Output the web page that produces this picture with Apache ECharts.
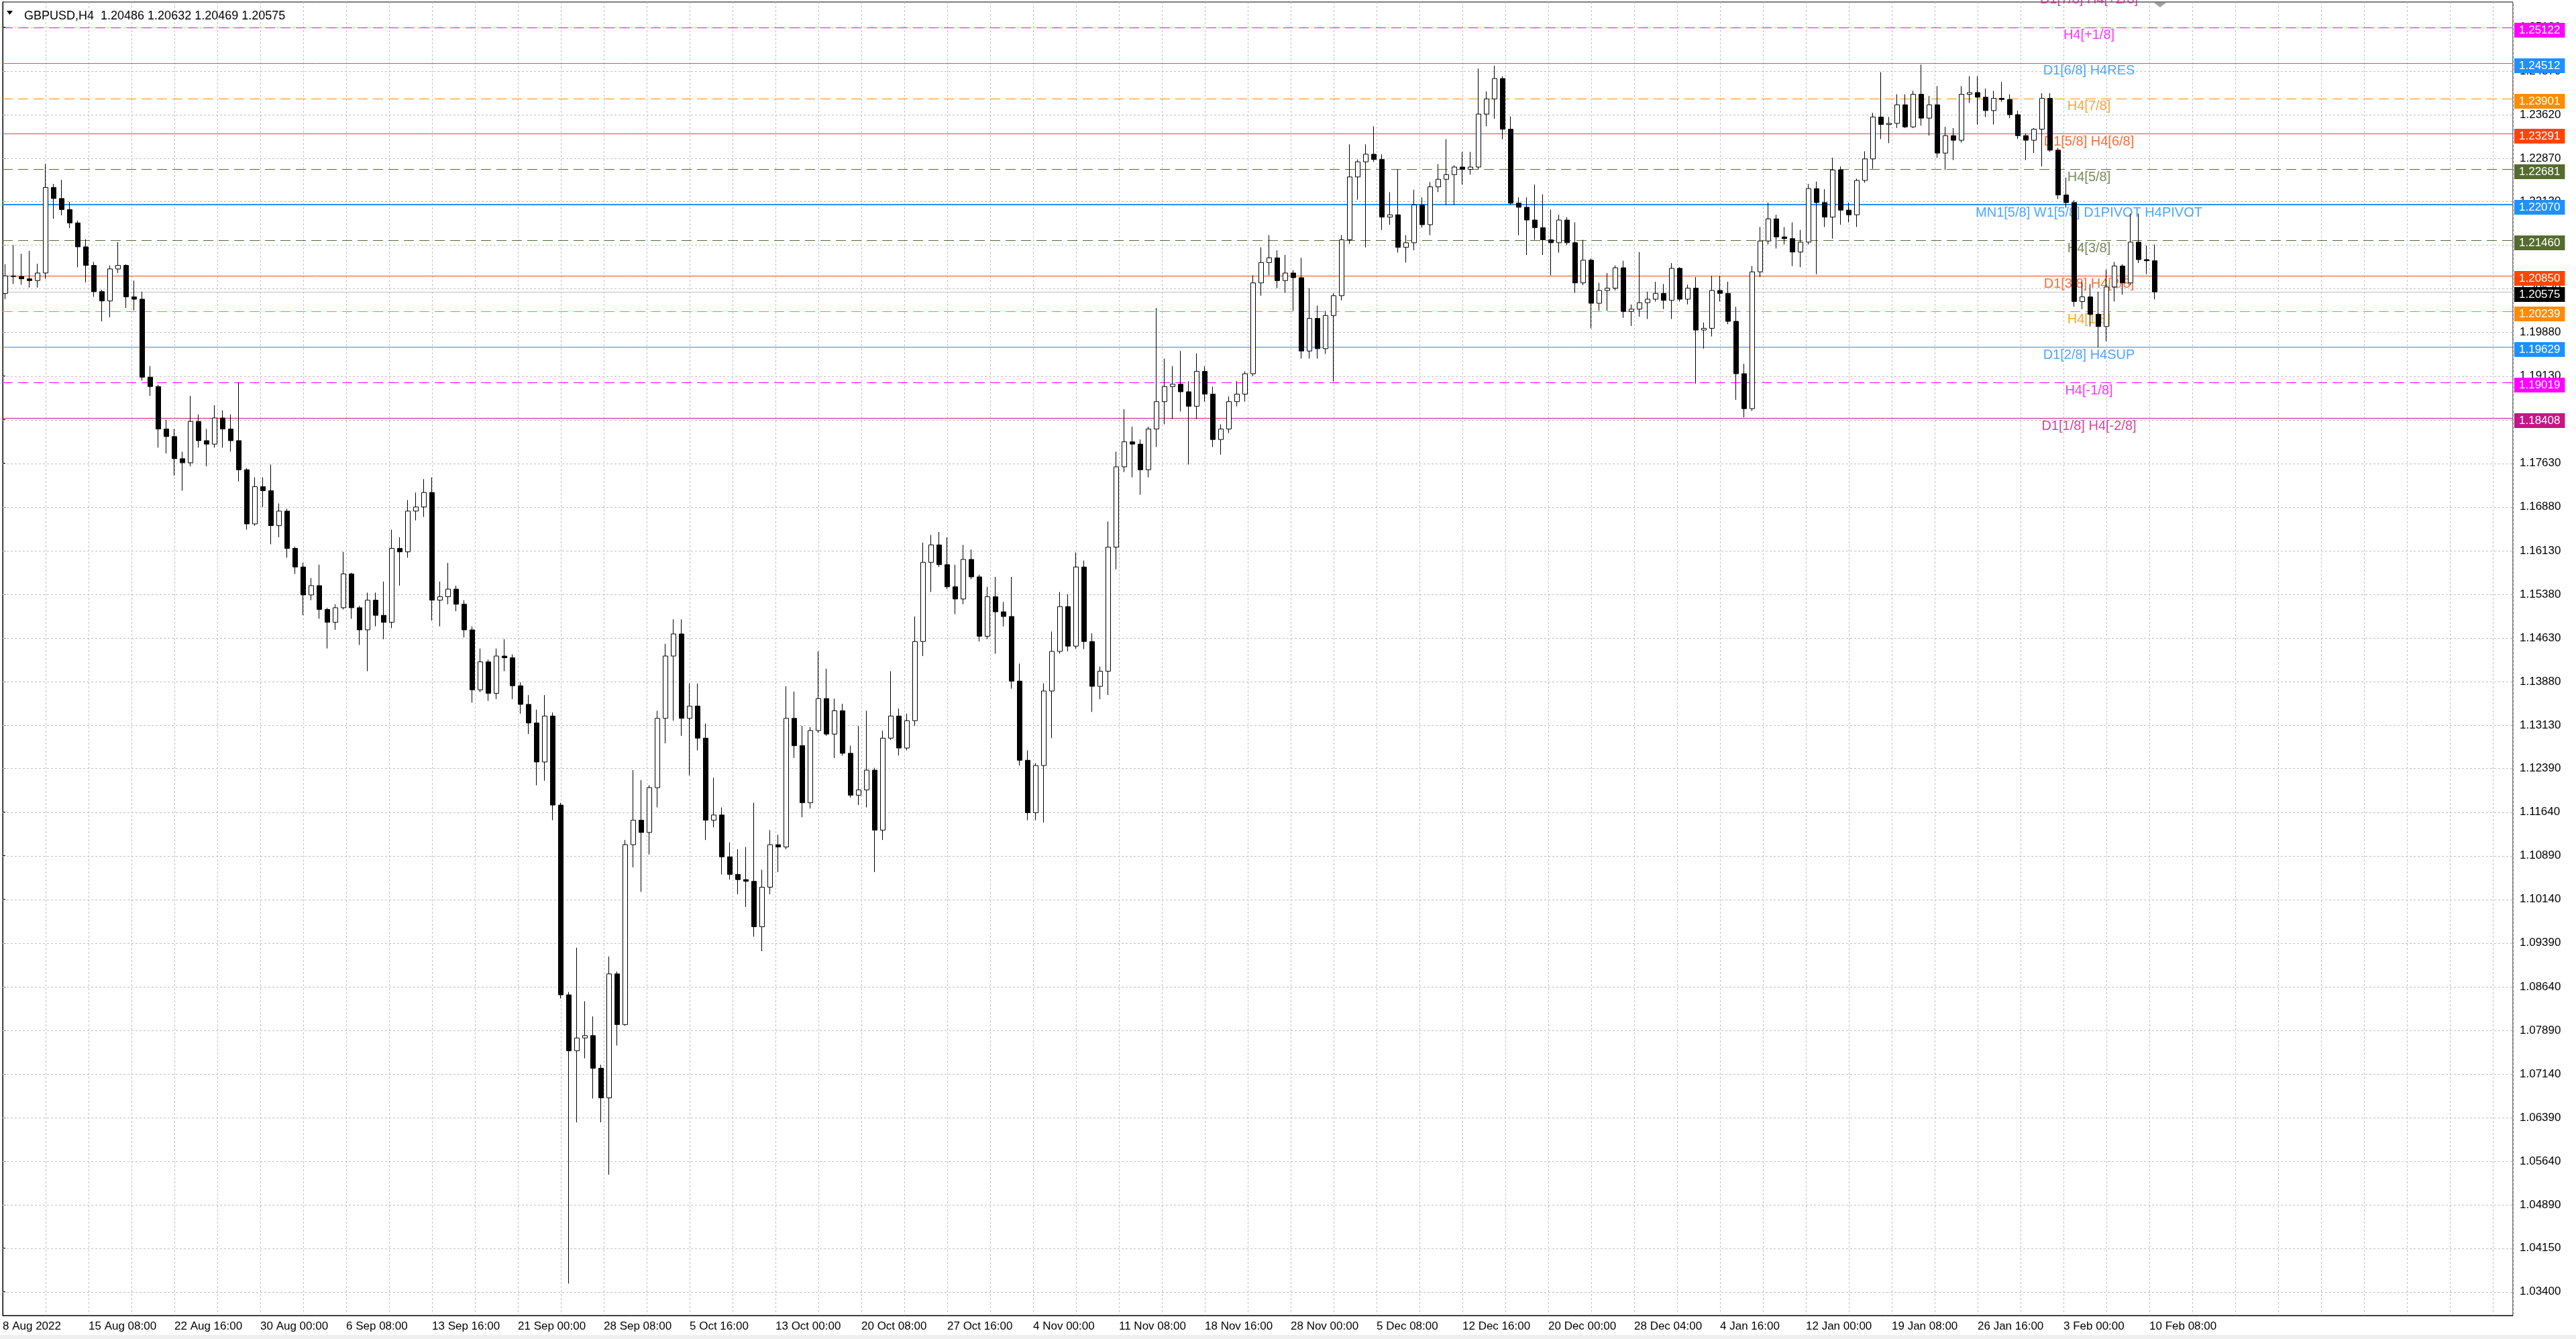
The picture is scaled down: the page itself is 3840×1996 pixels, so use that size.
<!DOCTYPE html>
<html><head><meta charset="utf-8">
<script src="https://cdn.jsdelivr.net/npm/echarts/dist/echarts.min.js"></script>
<style>html,body{margin:0;padding:0;background:#fff;overflow:hidden}#c{width:3840px;height:1996px}</style>
</head><body><div id="c"></div>
<script>
// 12-hour candles (each spans 3 H4 bars)
const opens=[
1.2055,1.2085,1.2084,1.2080,1.2077,1.2090,1.2237,1.2218,1.2199,1.2176,
1.2135,1.2103,1.2058,1.2042,1.2097,1.2103,1.2049,1.2045,1.1911,1.1895,
1.1822,1.1809,1.1771,1.1764,1.1835,1.1802,1.1796,1.1841,1.1822,1.1802,
1.1752,1.1659,1.1723,1.1716,1.1656,1.1681,1.1617,1.1585,1.1537,1.1553,
1.1512,1.1490,1.1515,1.1573,1.1515,1.1477,1.1528,1.1502,1.1490,1.1617,
1.1611,1.1681,1.1688,1.1713,1.1528,1.1534,1.1547,1.1521,1.1477,1.1374,
1.1422,1.1368,1.1432,1.1429,1.1381,1.1349,1.1317,1.1250,1.1329,1.1176,
1.0850,1.0754,1.0776,1.0780,1.0724,1.0673,1.0886,1.0799,1.1108,1.1150,
1.1129,1.1206,1.1325,1.1432,1.1470,1.1325,1.1346,1.1291,1.1150,1.1159,
1.1087,1.1057,1.1048,1.1045,1.0967,1.1035,1.1108,1.1104,1.1325,1.1278,
1.1180,1.1304,1.1359,1.1298,1.1338,1.1265,1.1193,1.1202,1.1236,1.1133,
1.1291,1.1329,1.1274,1.1321,1.1457,1.1593,1.1623,1.1589,1.1551,1.1530,
1.1598,1.1568,1.1466,1.1534,1.1508,1.1500,1.1389,1.1253,1.1163,1.1244,
1.1372,1.1440,1.1517,1.1449,1.1585,1.1457,1.1380,1.1406,1.1619,1.1757,
1.1800,1.1796,1.1752,1.1822,1.1869,1.1895,1.1899,1.1886,1.1861,1.1921,
1.1882,1.1804,1.1822,1.1869,1.1882,1.1917,1.2073,1.2108,1.2116,1.2077,
1.2090,1.2082,1.1956,1.2012,1.1960,1.2017,1.2051,1.2147,1.2255,1.2281,
1.2294,1.2285,1.2186,1.2190,1.2134,1.2142,1.2207,1.2173,1.2238,1.2251,
1.2259,1.2272,1.2268,1.2272,1.2363,1.2389,1.2424,1.2337,1.2210,1.2203,
1.2181,1.2168,1.2147,1.2142,1.2181,1.2142,1.2073,1.2112,1.2038,1.2060,
1.2064,1.2099,1.2024,1.2028,1.2039,1.2045,1.2055,1.2043,1.2098,1.2045,
1.2064,1.1992,1.1995,1.2060,1.2055,1.2007,1.1917,1.1857,1.2092,1.2145,
1.2183,1.2152,1.2149,1.2126,1.2143,1.2235,1.2211,1.2186,1.2267,1.2198,
1.2190,1.2249,1.2286,1.2358,1.2345,1.2347,1.2379,1.2341,1.2397,1.2356,
1.2379,1.2296,1.2326,1.2318,1.2397,1.2400,1.2392,1.2369,1.2390,1.2388,
1.2362,1.2326,1.2318,1.2337,1.2390,1.2301,1.2224,1.2211,1.2041,1.2049,
1.2019,1.1998,1.2066,1.2102,1.2073,1.2143,1.2113,1.2111];
const highs=[
1.2105,1.2138,1.2123,1.2128,1.2106,1.2277,1.2243,1.2250,1.2212,1.2180,
1.2148,1.2109,1.2061,1.2103,1.2143,1.2105,1.2077,1.2058,1.1930,1.1898,
1.1838,1.1822,1.1783,1.1879,1.1847,1.1822,1.1863,1.1854,1.1847,1.1902,
1.1755,1.1739,1.1739,1.1761,1.1694,1.1685,1.1620,1.1592,1.1566,1.1589,
1.1515,1.1521,1.1611,1.1575,1.1518,1.1541,1.1541,1.1560,1.1649,1.1636,
1.1700,1.1713,1.1736,1.1739,1.1560,1.1592,1.1553,1.1528,1.1483,1.1445,
1.1426,1.1445,1.1461,1.1435,1.1387,1.1365,1.1340,1.1365,1.1335,1.1180,
1.0855,1.0931,1.0839,1.0813,1.0730,1.0916,1.0890,1.1116,1.1236,1.1219,
1.1210,1.1338,1.1453,1.1495,1.1495,1.1385,1.1385,1.1316,1.1223,1.1172,
1.1112,1.1100,1.1104,1.1180,1.1065,1.1133,1.1125,1.1380,1.1371,1.1312,
1.1310,1.1440,1.1410,1.1359,1.1350,1.1278,1.1312,1.1338,1.1240,1.1304,
1.1406,1.1342,1.1333,1.1500,1.1627,1.1640,1.1645,1.1636,1.1589,1.1623,
1.1615,1.1572,1.1551,1.1568,1.1525,1.1568,1.1419,1.1270,1.1248,1.1385,
1.1474,1.1542,1.1538,1.1610,1.1596,1.1471,1.1414,1.1663,1.1783,1.1856,
1.1826,1.1804,1.1826,1.2030,1.1943,1.1930,1.1956,1.1904,1.1952,1.1930,
1.1895,1.1830,1.1878,1.1904,1.1921,1.2086,1.2134,1.2155,1.2129,1.2121,
1.2095,1.2116,1.2064,1.2034,1.2025,1.2055,1.2155,1.2311,1.2285,1.2311,
1.2342,1.2294,1.2229,1.2268,1.2155,1.2233,1.2220,1.2246,1.2277,1.2320,
1.2275,1.2298,1.2298,1.2441,1.2402,1.2446,1.2428,1.2359,1.2220,1.2220,
1.2242,1.2225,1.2199,1.2190,1.2186,1.2177,1.2147,1.2115,1.2073,1.2090,
1.2103,1.2111,1.2036,1.2126,1.2058,1.2075,1.2071,1.2107,1.2100,1.2070,
1.2083,1.2005,1.2085,1.2085,1.2075,1.2032,1.1934,1.2102,1.2169,1.2211,
1.2190,1.2169,1.2177,1.2164,1.2243,1.2247,1.2234,1.2288,1.2273,1.2211,
1.2252,1.2299,1.2365,1.2435,1.2358,1.2397,1.2397,1.2403,1.2448,1.2394,
1.2411,1.2341,1.2339,1.2411,1.2428,1.2428,1.2407,1.2403,1.2418,1.2397,
1.2369,1.2330,1.2339,1.2399,1.2399,1.2305,1.2254,1.2215,1.2075,1.2071,
1.2058,1.2096,1.2109,1.2105,1.2192,1.2192,1.2137,1.2139];
const lows=[
1.2045,1.2071,1.2070,1.2065,1.2065,1.2080,1.2183,1.2189,1.2167,1.2100,
1.2074,1.2049,1.2007,1.2014,1.2090,1.2030,1.2026,1.1905,1.1879,1.1790,
1.1780,1.1742,1.1716,1.1758,1.1790,1.1758,1.1790,1.1790,1.1783,1.1732,
1.1649,1.1656,1.1688,1.1624,1.1636,1.1601,1.1573,1.1502,1.1528,1.1496,
1.1445,1.1477,1.1512,1.1496,1.1451,1.1406,1.1483,1.1461,1.1480,1.1553,
1.1601,1.1665,1.1671,1.1493,1.1483,1.1521,1.1509,1.1464,1.1352,1.1370,
1.1355,1.1358,1.1406,1.1358,1.1333,1.1298,1.1210,1.1218,1.1150,1.0844,
1.0354,1.0631,1.0741,1.0672,1.0631,1.0541,1.0763,1.0797,1.1069,1.1027,
1.1091,1.1172,1.1282,1.1321,1.1295,1.1227,1.1270,1.1116,1.1138,1.1057,
1.1048,1.1023,1.1001,1.0950,1.0925,1.1023,1.1061,1.1100,1.1257,1.1155,
1.1170,1.1300,1.1295,1.1257,1.1261,1.1189,1.1176,1.1172,1.1061,1.1116,
1.1288,1.1261,1.1270,1.1312,1.1432,1.1542,1.1585,1.1547,1.1504,1.1521,
1.1564,1.1457,1.1461,1.1436,1.1483,1.1376,1.1244,1.1150,1.1150,1.1146,
1.1291,1.1436,1.1440,1.1444,1.1444,1.1336,1.1358,1.1365,1.1581,1.1748,
1.1739,1.1709,1.1739,1.1791,1.1830,1.1839,1.1852,1.1761,1.1839,1.1869,
1.1791,1.1778,1.1815,1.1861,1.1869,1.1913,1.2051,1.2086,1.2064,1.2056,
1.2025,1.1943,1.1943,1.1943,1.1951,1.1904,1.2043,1.2140,1.2216,1.2134,
1.2281,1.2164,1.2173,1.2125,1.2108,1.2129,1.2168,1.2155,1.2229,1.2207,
1.2207,1.2242,1.2259,1.2268,1.2342,1.2355,1.2320,1.2207,1.2155,1.2121,
1.2147,1.2121,1.2086,1.2125,1.2138,1.2056,1.2069,1.1995,1.2025,1.2025,
1.2060,1.2013,1.1999,1.2015,1.2011,1.2041,1.2028,1.2011,1.2041,1.2036,
1.1900,1.1960,1.1981,1.2041,1.2002,1.1872,1.1842,1.1853,1.2083,1.2139,
1.2132,1.2139,1.2102,1.2100,1.2139,1.2088,1.2169,1.2149,1.2173,1.2177,
1.2169,1.2245,1.2269,1.2320,1.2313,1.2339,1.2339,1.2339,1.2343,1.2326,
1.2288,1.2267,1.2284,1.2314,1.2382,1.2345,1.2358,1.2345,1.2384,1.2356,
1.2320,1.2284,1.2296,1.2273,1.2298,1.2217,1.2202,1.2032,1.2028,1.1998,
1.1962,1.1973,1.2041,1.2053,1.2069,1.2107,1.2088,1.2045];
const closes=[
1.2085,1.2084,1.2080,1.2077,1.2090,1.2237,1.2218,1.2199,1.2176,1.2135,
1.2103,1.2058,1.2042,1.2097,1.2103,1.2049,1.2045,1.1911,1.1895,1.1822,
1.1809,1.1771,1.1764,1.1835,1.1802,1.1796,1.1841,1.1822,1.1802,1.1752,
1.1659,1.1723,1.1716,1.1656,1.1681,1.1617,1.1585,1.1537,1.1553,1.1512,
1.1490,1.1515,1.1573,1.1515,1.1477,1.1528,1.1502,1.1490,1.1617,1.1611,
1.1681,1.1688,1.1713,1.1528,1.1534,1.1547,1.1521,1.1477,1.1374,1.1422,
1.1368,1.1432,1.1429,1.1381,1.1349,1.1317,1.1250,1.1329,1.1176,1.0850,
1.0754,1.0776,1.0780,1.0724,1.0673,1.0886,1.0799,1.1108,1.1150,1.1129,
1.1206,1.1325,1.1432,1.1470,1.1325,1.1346,1.1291,1.1150,1.1159,1.1087,
1.1057,1.1048,1.1045,1.0967,1.1035,1.1108,1.1104,1.1325,1.1278,1.1180,
1.1304,1.1359,1.1298,1.1338,1.1265,1.1193,1.1202,1.1236,1.1133,1.1291,
1.1329,1.1274,1.1321,1.1457,1.1593,1.1623,1.1589,1.1551,1.1530,1.1598,
1.1568,1.1466,1.1534,1.1508,1.1500,1.1389,1.1253,1.1163,1.1244,1.1372,
1.1440,1.1517,1.1449,1.1585,1.1457,1.1380,1.1406,1.1619,1.1757,1.1800,
1.1796,1.1752,1.1822,1.1869,1.1895,1.1899,1.1886,1.1861,1.1921,1.1882,
1.1804,1.1822,1.1869,1.1882,1.1917,1.2073,1.2108,1.2116,1.2077,1.2090,
1.2082,1.1956,1.2012,1.1960,1.2017,1.2051,1.2147,1.2255,1.2281,1.2294,
1.2285,1.2186,1.2190,1.2134,1.2142,1.2207,1.2173,1.2238,1.2251,1.2259,
1.2272,1.2268,1.2272,1.2363,1.2389,1.2424,1.2337,1.2210,1.2203,1.2181,
1.2168,1.2147,1.2142,1.2181,1.2142,1.2073,1.2112,1.2038,1.2060,1.2064,
1.2099,1.2024,1.2028,1.2039,1.2045,1.2055,1.2043,1.2098,1.2045,1.2064,
1.1992,1.1995,1.2060,1.2055,1.2007,1.1917,1.1857,1.2092,1.2145,1.2183,
1.2152,1.2149,1.2126,1.2143,1.2235,1.2211,1.2186,1.2267,1.2198,1.2190,
1.2249,1.2286,1.2358,1.2345,1.2347,1.2379,1.2341,1.2397,1.2356,1.2379,
1.2296,1.2326,1.2318,1.2397,1.2400,1.2392,1.2369,1.2390,1.2388,1.2362,
1.2326,1.2318,1.2337,1.2390,1.2301,1.2224,1.2211,1.2041,1.2049,1.2019,
1.1998,1.2066,1.2102,1.2073,1.2143,1.2113,1.2111,1.20575];

const dateLabels=['8 Aug 2022','15 Aug 08:00','22 Aug 16:00','30 Aug 00:00','6 Sep 08:00','13 Sep 16:00','21 Sep 00:00','28 Sep 08:00','5 Oct 16:00','13 Oct 00:00','20 Oct 08:00','27 Oct 16:00','4 Nov 00:00','11 Nov 08:00','18 Nov 16:00','28 Nov 00:00','5 Dec 08:00','12 Dec 16:00','20 Dec 00:00','28 Dec 04:00','4 Jan 16:00','12 Jan 00:00','19 Jan 08:00','26 Jan 16:00','3 Feb 00:00','10 Feb 08:00'];
const tickValues=[1.03400,1.04150,1.04890,1.05640,1.06390,1.07140,1.07890,1.08640,1.09390,1.10140,1.10890,1.11640,1.12390,1.13130,1.13880,1.14630,1.15380,1.16130,1.16880,1.17630,1.18380,1.19130,1.19880,1.20630,1.21380,1.22130,1.22870,1.23620,1.24370,1.25120];

const levelPrices=[1.25733,1.25122,1.24512,1.23901,1.23291,1.22681,1.22070,1.21460,1.20850,1.20239,1.19629,1.19019,1.18408];
const levelNames=['D1[7/8] H4[+2/8]','H4[+1/8]','D1[6/8] H4RES','H4[7/8]','D1[5/8] H4[6/8]','H4[5/8]','MN1[5/8] W1[5/8] D1PIVOT H4PIVOT','H4[3/8]','D1[3/8] H4[2/8]','H4[1/8]','D1[2/8] H4SUP','H4[-1/8]','D1[1/8] H4[-2/8]'];
const levelColors=['#C71585','#FF00FF','#1E90FF','#FF8C00','#FF4500','#556B2F','#1E90FF','#556B2F','#FF4500','#FF8C00','#1E90FF','#FF00FF','#C71585'];
const levelDashed=[false,true,false,true,false,true,false,true,false,true,false,true,false];
const levelWidths=[1,1,1,1,1,1,2,1,1,1,1,1,1];
const bidPrice=1.20575;
const headerText='GBPUSD,H4  1.20486 1.20632 1.20469 1.20575';

const FONT='"Liberation Sans", Arial, sans-serif';
const BARS_PER_CANDLE=3;
const LABEL_X=777.5;
const X_MAX=935.5;
const Y_MIN=1.02992, Y_MAX=1.25555;
const BOX_SHIFT=4;

const candleData=closes.map((c,k)=>[k*BARS_PER_CANDLE+1, opens[k], c, lows[k], highs[k]]);

// level line records: [x, price, lineColor, boxColor, width, dashed]
const levelRows=[];
levelPrices.forEach((p,i)=>{
  if(p>Y_MAX) return;
  levelRows.push([0,p,levelColors[i],levelColors[i],levelWidths[i],levelDashed[i]?1:0]);
});
levelRows.push([0,bidPrice,'#C0C0C0','#000000',1,0]);

const series=[];
// horizontal grid (dotted) through the y-axis scale
series.push({type:'custom',z:1,silent:true,animation:false,
  data:tickValues.map(v=>[0,v]),
  encode:{x:0,y:1},
  renderItem:(params,api)=>{
    const y=Math.round(api.coord([0,api.value(1)])[1])+0.5;
    const cs=params.coordSys;
    return {type:'line',shape:{x1:cs.x,y1:y,x2:cs.x+cs.width,y2:y},
      style:{stroke:'#C0C0C0',lineWidth:1,lineDash:[3,3]}};
  }});
// level lines with right-side price boxes
series.push({type:'custom',z:2,silent:true,animation:false,clip:false,
  data:levelRows,
  dimensions:['x','y','c','b','w','d'],
  encode:{x:0,y:1},
  renderItem:(params,api)=>{
    const r=levelRows[params.dataIndex];
    const yy=api.coord([0,api.value(1)])[1];
    const w=r[4];
    const y=(w%2===1)?Math.round(yy)+0.5:Math.round(yy);
    const cs=params.coordSys;
    return {type:'group',children:[
      {type:'line',shape:{x1:cs.x,y1:y,x2:cs.x+cs.width,y2:y},
        style:{stroke:r[2],lineWidth:w,lineDash:r[5]?[15,8]:null}},
      {type:'text',x:cs.x+cs.width+2,y:Math.round(yy)+BOX_SHIFT,
        style:{text:r[1].toFixed(5),fill:'#fff',backgroundColor:r[3],padding:[2,7,2,7],
          font:'17px '+FONT,lineHeight:18,verticalAlign:'middle',align:'left'}}
    ]};
  }});
series.push({type:'scatter',z:3,silent:true,clip:false,symbolSize:0,animation:false,
  data:levelPrices.map((p,i)=>({value:[LABEL_X,p],label:{color:levelColors[i]}})),
  label:{show:true,position:'bottom',distance:2,fontSize:20,fontFamily:FONT,
    formatter:p=>levelNames[p.dataIndex]}});
series.push({type:'candlestick',z:5,barWidth:8,silent:true,animation:false,
  dimensions:['x','open','close','low','high'],
  encode:{x:'x',y:['open','close','low','high']},
  itemStyle:{color:'#ffffff',color0:'#000000',borderColor:'#000000',borderColor0:'#000000',borderWidth:1},
  data:candleData});

const chart=echarts.init(document.getElementById('c'),null,{renderer:'canvas'});
chart.setOption({
  animation:false,
  backgroundColor:'#ffffff',
  title:{text:headerText,left:31,top:10,textStyle:{fontSize:18,fontWeight:'normal',color:'#000',fontFamily:FONT}},
  grid:{left:4,right:94,top:3,bottom:35,show:true,borderColor:'#000',borderWidth:1,backgroundColor:'#fff'},
  xAxis:{type:'value',min:0,max:X_MAX,interval:16,
    axisLine:{show:true,lineStyle:{color:'#000'}},axisTick:{show:false},
    splitLine:{show:true,lineStyle:{color:'#C0C0C0',type:[3,3],width:1}},
    axisLabel:{showMinLabel:true,showMaxLabel:false,align:'left',color:'#000',fontSize:17,fontFamily:FONT,margin:8,
      formatter:v=>{const k=v/32; return (Number.isInteger(k)&&k<dateLabels.length)?dateLabels[k]:'';}}},
  yAxis:{type:'value',position:'right',min:Y_MIN,max:Y_MAX,scale:true,
    axisLine:{show:true,lineStyle:{color:'#000'}},
    axisTick:{show:true,length:4,customValues:tickValues,lineStyle:{color:'#000'}},
    axisLabel:{customValues:tickValues,formatter:v=>v.toFixed(5),color:'#000',fontSize:17,fontFamily:FONT,margin:10},
    splitLine:{show:false}},
  series:series,
  graphic:[
    {type:'polygon',shape:{points:[[10,16],[19,16],[14.5,22]]},style:{fill:'#000'},z:100},
    {type:'polygon',shape:{points:[[3211,4],[3229,4],[3220,11]]},style:{fill:'#A0A0A0'},z:100},
    {type:'rect',shape:{x:0,y:1990,width:3840,height:6},style:{fill:'#EFEFEF'},z:100}
  ]
});
</script>
</body></html>
